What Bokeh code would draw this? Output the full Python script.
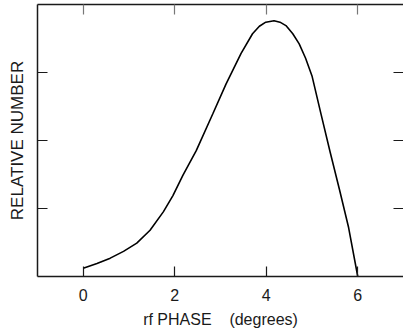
from bokeh.plotting import figure
from bokeh.models import LinearAxis, Range1d, FixedTicker
from bokeh.embed import file_html
from bokeh.resources import INLINE

# rf phase (degrees) and relative number
phase = [0.0, 0.3, 0.59, 0.88, 1.17, 1.46, 1.75, 1.96, 2.18, 2.47, 2.83, 3.12,
         3.45, 3.70, 3.85, 3.99, 4.17, 4.30, 4.43, 4.58, 4.72, 4.86, 5.0, 5.2, 5.4,
         5.6, 5.8, 6.0]
relative_number = [0.12, 0.19, 0.27, 0.37, 0.49, 0.68, 0.95, 1.19, 1.49, 1.85, 2.39, 2.83,
                   3.28, 3.57, 3.68, 3.74, 3.76, 3.74, 3.69, 3.57, 3.42, 3.21, 2.95, 2.38, 1.82,
                   1.28, 0.72, 0.0]
x_ticks = [0, 2, 4, 6]
y_ticks = [1, 2, 3]

FONT = "Liberation Sans"
INK = "#1a1a1a"

p = figure(width=403, height=331, output_backend="svg", toolbar_location=None,
           x_range=Range1d(-1, 7), y_range=Range1d(0, 4),
           x_axis_location=None, y_axis_location=None,
           min_border_left=37, min_border_right=0, min_border_top=4, min_border_bottom=55)
p.outline_line_color = None
p.grid.visible = False
p.background_fill_color = "white"
p.border_fill_color = "white"

def style(ax, ticks, show_labels=False):
    ax.ticker = FixedTicker(ticks=ticks)
    ax.major_tick_in = 10
    ax.major_tick_out = 0
    ax.minor_tick_line_color = None
    ax.axis_line_color = INK
    ax.axis_line_width = 1.5
    ax.major_tick_line_color = INK
    ax.major_tick_line_width = 1.2
    if not show_labels:
        ax.major_label_overrides = {t: "" for t in ticks}
        ax.major_label_standoff = 0

bottom = LinearAxis(axis_label="rf PHASE\u00a0\u00a0\u00a0\u00a0(degrees)")
style(bottom, x_ticks, show_labels=True)
bottom.major_label_text_font = FONT
bottom.major_label_text_font_size = "16px"
bottom.major_label_text_color = INK
bottom.major_label_standoff = 12
bottom.axis_label_text_font = FONT
bottom.axis_label_text_font_size = "16px"
bottom.axis_label_text_font_style = "normal"
bottom.axis_label_text_color = INK
bottom.axis_label_standoff = 7
p.add_layout(bottom, "below")

top = LinearAxis()
style(top, x_ticks)
top.major_tick_line_color = "#777777"
p.add_layout(top, "above")

left = LinearAxis(axis_label="RELATIVE NUMBER")
style(left, y_ticks)
left.axis_label_text_font = FONT
left.axis_label_text_font_size = "17px"
left.axis_label_text_font_style = "normal"
left.axis_label_text_color = INK
left.axis_label_standoff = 11
p.add_layout(left, "left")

right = LinearAxis()
style(right, y_ticks)
right.axis_line_color = None
p.add_layout(right, "right")

p.line(phase, relative_number, line_color="black", line_width=1.6)

open("out.html", "w").write(file_html(p, INLINE))
